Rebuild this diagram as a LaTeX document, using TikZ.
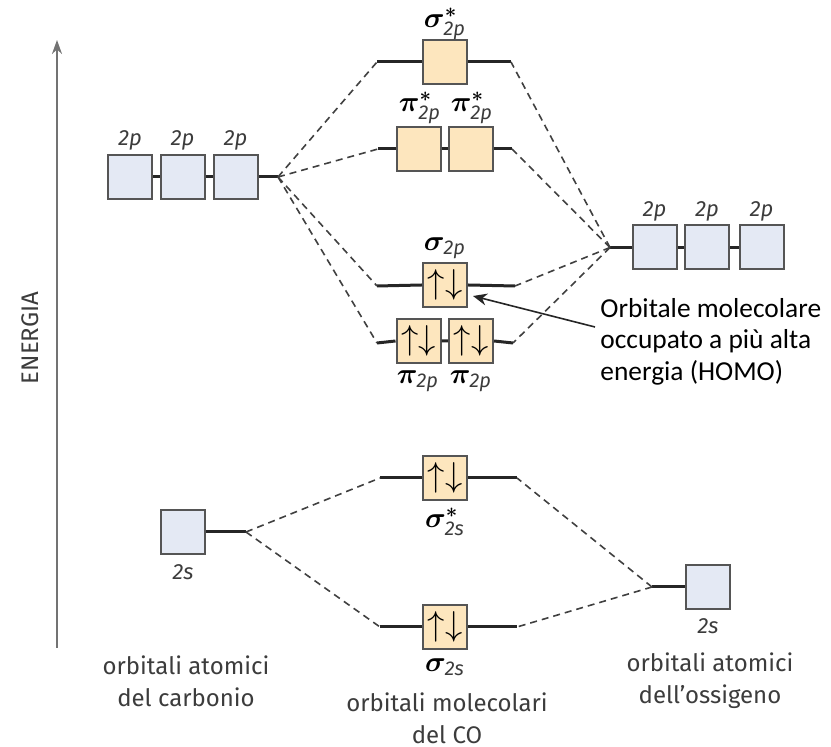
\documentclass[tikz,border=0pt]{standalone}
\usepackage{amsmath,bm}
\usepackage{fontspec}
\newfontfamily\labelfont{Fira Sans}
\newfontfamily\homofont{Carlito}
\usetikzlibrary{arrows.meta}

\definecolor{aoblue}{HTML}{E4E9F4}
\definecolor{moorange}{HTML}{FDE6BE}
\definecolor{boxgray}{HTML}{555555}
\definecolor{textgray}{HTML}{3C3C3C}

\tikzset{
  aobox/.style={draw=boxgray,line width=1pt,fill=aoblue,minimum size=22pt,inner sep=0pt},
  mobox/.style={aobox,fill=moorange,font=\fontsize{17}{17}\selectfont},
  level/.style={line width=1.5pt,draw=black!85},
  link/.style={dash pattern=on 3.5pt off 2.5pt,line width=0.8pt,draw=black!75},
  aolabel/.style={font=\labelfont\itshape\fontsize{11}{11}\selectfont,text=textgray},
  molabel/.style={font=\fontsize{14}{14}\selectfont},
  caption/.style={font=\labelfont\fontsize{12}{16}\selectfont,text=textgray,align=center},
  homo/.style={font=\homofont\fontsize{13.7}{15.75}\selectfont,align=left,inner sep=0pt}
}

\newcommand{\mo}[2]{$\bm{#1}_{\hbox{\labelfont\itshape\fontsize{10}{10}\selectfont\color{textgray}#2}}$}
\newcommand{\mostar}[2]{$\bm{#1}^{\bm{*}}_{\hbox{\labelfont\itshape\fontsize{10}{10}\selectfont\color{textgray}#2}}$}
\newcommand{\spinpair}{$\uparrow\downarrow$}

\begin{document}
\begin{tikzpicture}[x=0.5pt,y=-0.5pt]
    \useasboundingbox (0,0) rectangle (831,747);

    % Energy axis
    \coordinate (axisB) at (57,648);
    \coordinate (axisT) at (57,40);
    \draw [-{Stealth[length=7pt,width=5pt]},line width=1pt,draw=black!55] (axisB) -- (axisT);
    \node [rotate=90,font=\labelfont\fontsize{12}{12}\selectfont,text=textgray] (E) at (30,338) {ENERGIA};

    % Carbon 2p
    \node [aobox] (C2p1) at (130,177) {};
    \node [aobox] (C2p2) at (182.5,177) {};
    \node [aobox] (C2p3) at (235.5,177) {};
    \coordinate (C2pR) at (278,177);
    \draw [level] (C2p1.east) -- (C2p2.west) (C2p2.east) -- (C2p3.west) (C2p3.east) -- (C2pR);
    \node [aolabel] at (130,140) {2p};
    \node [aolabel] at (182.5,140) {2p};
    \node [aolabel] at (235.5,140) {2p};

    % Oxygen 2p
    \node [aobox] (O2p1) at (654.5,247.5) {};
    \node [aobox] (O2p2) at (707,247.5) {};
    \node [aobox] (O2p3) at (761.5,247.5) {};
    \coordinate (O2pL) at (610,247.5);
    \draw [level] (O2pL) -- (O2p1.west) (O2p1.east) -- (O2p2.west) (O2p2.east) -- (O2p3.west);
    \node [aolabel] at (654.5,211) {2p};
    \node [aolabel] at (707,211) {2p};
    \node [aolabel] at (761.5,211) {2p};

    % sigma* 2p
    \node [mobox] (S2ps) at (445,62) {};
    \coordinate (S2psL) at (377,62);
    \coordinate (S2psR) at (511,62);
    \draw [level] (S2psL) -- (S2ps.west) (S2ps.east) -- (S2psR);
    \node [molabel] at (445,24) {\mostar{\sigma}{2p}};

    % pi* 2p
    \node [mobox] (P2ps1) at (418.5,149) {};
    \node [mobox] (P2ps2) at (470.5,149) {};
    \coordinate (P2psL) at (378,149);
    \coordinate (P2psR) at (512,149);
    \draw [level] (P2psL) -- (P2ps1.west) (P2ps1.east) -- (P2ps2.west) (P2ps2.east) -- (P2psR);
    \node [molabel] at (420,108) {\mostar{\pi}{2p}};
    \node [molabel] at (472,108) {\mostar{\pi}{2p}};

    % sigma 2p
    \node [mobox] (S2p) at (445,285) {\spinpair};
    \coordinate (S2pL) at (377,286);
    \coordinate (S2pR) at (515,286);
    \draw [level] (S2pL) -- (S2p.west) (S2p.east) -- (S2pR);
    \node [molabel] at (445,248) {\mo{\sigma}{2p}};

    % pi 2p
    \node [mobox] (P2p1) at (418.5,341) {\spinpair};
    \node [mobox] (P2p2) at (471,341) {\spinpair};
    \coordinate (P2pL) at (377,343);
    \coordinate (P2pR) at (513,343);
    \draw [level] (P2pL) -- (P2p1.west) (P2p1.east) -- (P2p2.west) (P2p2.east) -- (P2pR);
    \node [molabel] at (418,381) {\mo{\pi}{2p}};
    \node [molabel] at (471,381) {\mo{\pi}{2p}};

    % Links 2p
    \draw [link] (C2pR) -- (S2psL);
    \draw [link] (C2pR) -- (P2psL);
    \draw [link] (C2pR) -- (S2pL);
    \draw [link] (C2pR) -- (P2pL);
    \draw [link] (O2pL) -- (S2psR);
    \draw [link] (O2pL) -- (P2psR);
    \draw [link] (O2pL) -- (S2pR);
    \draw [link] (O2pL) -- (P2pR);

    % Carbon 2s
    \node [aobox] (C2s) at (183,532) {};
    \coordinate (C2sR) at (246,532);
    \draw [level] (C2s.east) -- (C2sR);
    \node [aolabel] at (183,572) {2s};

    % Oxygen 2s
    \node [aobox] (O2s) at (708,587) {};
    \coordinate (O2sL) at (652,587);
    \draw [level] (O2sL) -- (O2s.west);
    \node [aolabel] at (708,626) {2s};

    % sigma* 2s
    \node [mobox] (S2ss) at (445,478) {\spinpair};
    \coordinate (S2ssL) at (380,478);
    \coordinate (S2ssR) at (517,478);
    \draw [level] (S2ssL) -- (S2ss.west) (S2ss.east) -- (S2ssR);
    \node [molabel] at (445,522) {\mostar{\sigma}{2s}};

    % sigma 2s
    \node [mobox] (S2s) at (445,627) {\spinpair};
    \coordinate (S2sL) at (380,627);
    \coordinate (S2sR) at (517,627);
    \draw [level] (S2sL) -- (S2s.west) (S2s.east) -- (S2sR);
    \node [molabel] at (445,667) {\mo{\sigma}{2s}};

    % Links 2s
    \draw [link] (C2sR) -- (S2ssL);
    \draw [link] (C2sR) -- (S2sL);
    \draw [link] (O2sL) -- (S2ssR);
    \draw [link] (O2sL) -- (S2sR);

    % HOMO note
    \node [homo,anchor=north west] (homo) at (600,298)
        {Orbitale molecolare\\occupato a più alta\\energia (HOMO)};
    \coordinate (homoTail) at (595,327);
    \coordinate (homoTip) at (473,296);
    \draw [-{Stealth[length=7pt,width=6pt]},line width=0.8pt,draw=black!85] (homoTail) -- (homoTip);

    % Captions
    \node [caption] (capC) at (186,681) {orbitali atomici\\del carbonio};
    \node [caption] (capCO) at (447,718) {orbitali molecolari\\del CO};
    \node [caption] (capO) at (710,681) {orbitali atomici\\dell’ossigeno};
\end{tikzpicture}
\end{document}
